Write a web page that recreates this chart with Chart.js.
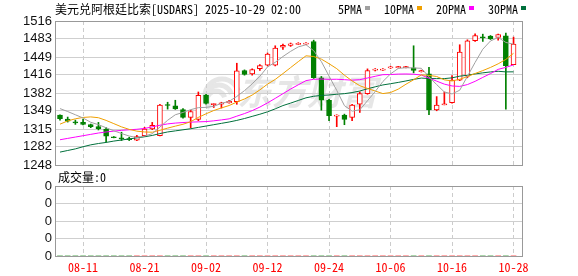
<!DOCTYPE html>
<html>
<head>
<meta charset="utf-8">
<script src="https://cdn.jsdelivr.net/npm/chart.js@4.4.1/dist/chart.umd.min.js"></script>
<style>
  html, body { margin: 0; padding: 0; background: #fff; }
  #wrap { position: relative; width: 578px; height: 276px; }
  #wrap canvas { position: absolute; left: 0; top: 0; }
</style>
</head>
<body>
<div id="wrap">
  <canvas id="main" width="578" height="276"></canvas>
  <canvas id="vol" width="578" height="276"></canvas>
</div>
<script>
// daily candles, 2025-08-06 .. 2025-10-28
const dates = ['08-06','08-07','08-08','08-11','08-12','08-13','08-14','08-15','08-18','08-19',
  '08-20','08-21','08-22','08-25','08-26','08-27','08-28','08-29','09-01','09-02',
  '09-03','09-04','09-05','09-08','09-09','09-10','09-11','09-12','09-15','09-16',
  '09-17','09-18','09-19','09-22','09-23','09-24','09-25','09-26','09-29','09-30',
  '10-01','10-02','10-03','10-06','10-07','10-08','10-09','10-10','10-13','10-14',
  '10-15','10-16','10-17','10-20','10-21','10-22','10-23','10-24','10-27','10-28'];

const open  = [1340.8,1333.5,1328.5,1327.3,1323,1319.3,1315,1300.5,1298.5,1297,
  1294.1,1302.7,1315,1302.7,1360.5,1358,1351.3,1336.5,1332.9,1378.3,
  1360.5,1361,1363.6,1366,1423.8,1417.7,1427.5,1433.6,1433.6,1467.5,
  1470.5,1472.5,1473,1477.9,1410.3,1368.5,1339,1340.8,1336.5,1361.1,
  1380.8,1424.5,1424.5,1428.7,1429,1429,1428.7,1421.5,1417.7,1350.7,
  1360,1364.2,1406,1413.4,1479.2,1486.5,1487.8,1485.3,1488.4,1434.9];
const high  = [1341.5,1337.2,1331.6,1333.5,1324.2,1327.3,1317.5,1301,1309,1299.7,
  1303.4,1318.1,1327.3,1361.1,1364.8,1368.5,1353,1350,1383.9,1379.6,
  1362.4,1364.8,1368.5,1437.4,1425,1427,1434.9,1456.4,1469.9,1473,
  1475,1475.7,1476,1480.4,1412.8,1370.4,1341.5,1342.7,1361.1,1383.9,
  1426.9,1427.5,1427.5,1431.8,1431.5,1431.5,1469.9,1424.5,1430,1375.3,
  1383.9,1414.6,1471.8,1481,1492,1491.5,1489,1491.5,1493.3,1486];
const low   = [1331.6,1327.9,1323.6,1322.4,1317.5,1313.2,1290.5,1298.5,1293.5,1293.5,
  1293.5,1301.5,1313.8,1302.1,1352,1351.5,1335.3,1317,1330.4,1361,
  1355,1354,1363,1361,1415.2,1415.2,1423.8,1432.4,1432.4,1463,
  1468.7,1472,1472.5,1409,1350,1330.4,1319.3,1323,1330.4,1345.8,
  1379.6,1423,1424,1427.5,1428.5,1428.5,1419.5,1421,1341.5,1348.9,
  1359.9,1363,1405,1410.3,1478,1478,1481.6,1480.4,1351.9,1434.9];
const close = [1334.1,1329.8,1326.5,1323.6,1319.3,1315,1301.5,1298.7,1296.7,1295.2,
  1300.9,1315,1321.8,1359.3,1358.7,1352.5,1336.5,1347.6,1377.7,1362.4,
  1362.4,1363.6,1366.7,1423.2,1416.5,1425.7,1433,1454.6,1465.6,1470.5,
  1473.6,1474.5,1475,1410.3,1368.5,1339.6,1341,1332.9,1359.3,1380.8,
  1423.8,1426.5,1426.5,1430.6,1431,1431,1423.8,1423.5,1350.7,1359.3,
  1362,1406,1458.2,1479.2,1489,1484.5,1482.8,1490.8,1433,1473];

const ma5  = [1353,1347.5,1341.5,1335.5,1327.5,1323,1317.3,1311.8,1306.6,1301.9,
  1299.1,1301.8,1306.2,1318.6,1331.2,1341.5,1345.8,1351,1354.7,1355.3,
  1357.2,1362.7,1366.5,1375.6,1386.4,1399.1,1413,1430.6,1439.1,1449.9,
  1459.5,1467.8,1471.8,1460.8,1440.4,1413.5,1386.9,1358.5,1348.3,1350.7,
  1367.6,1384.7,1403.4,1417.6,1427.7,1429.1,1428.6,1428,1412,1397.7,
  1383.9,1380.3,1387.2,1413,1438.9,1463.5,1478.8,1485.4,1476.1,1472.9];
const ma10 = [1324,1330,1334,1336.5,1337.5,1336,1331,1325,1319,1314.3,
  1311,1309.5,1309,1312.6,1316.6,1320.3,1323.8,1328.6,1336.6,1343.3,
  1349.4,1354.2,1358.7,1365.1,1370.9,1378.2,1387.8,1398.5,1407.3,1418.1,
  1429.3,1440.4,1451.2,1449.9,1445.1,1436.5,1427.3,1415.1,1404.5,1395.5,
  1390.5,1385.7,1380.9,1382.9,1389.2,1398.3,1406.6,1415.7,1414.8,1412.7,
  1406.5,1404.4,1407.6,1412.5,1418.3,1423.7,1429.6,1436.3,1444.5,1455.9];
const ma20 = [1295,1297.5,1300,1302.5,1305,1307.5,1309.5,1311,1312.5,1313.5,
  1314.5,1316,1319,1322,1324.5,1326,1327,1327.8,1328.3,1328.8,
  1330.2,1331.9,1333.9,1338.9,1343.7,1349.2,1355.8,1363.6,1372,1380.7,
  1389.3,1397.3,1405,1407.5,1408,1407.4,1407.6,1406.8,1405.9,1406.8,
  1409.9,1413.1,1416.1,1416.4,1417.2,1417.4,1417,1415.4,1409.7,1404.1,
  1398.5,1395.1,1394.3,1397.7,1403.7,1411,1418.1,1426,1429.7,1434.3];
const ma30 = [1272,1275,1278,1282,1285.5,1288,1290,1292.5,1294.5,1296.5,
  1298.5,1300.5,1303,1306.5,1309.5,1311.5,1313.5,1315.5,1318,1320.5,
  1323,1325.5,1328,1331,1334.5,1338.5,1342.5,1347,1352.5,1358.6,
  1363.2,1368.1,1373,1375.9,1377.5,1378.3,1379.7,1380.8,1382.8,1385.7,
  1389.8,1393.5,1397,1399.3,1401.7,1404.4,1407.3,1409.8,1408.9,1408.8,
  1408.8,1410.2,1413.3,1415.1,1417.5,1419.5,1421.2,1422.4,1421.3,1421.4];

const volume = [0,0,0,0,0,0,0,0,0,0, 0,0,0,0,0,0,0,0,0,0, 0,0,0,0,0,0,0,0,0,0,
  0,0,0,0,0,0,0,0,0,0, 0,0,0,0,0,0,0,0,0,0, 0,0,0,0,0,0,0,0,0,0];

const priceTicks = [1248,1282,1315,1349,1382,1416,1449,1483,1516];
const volTicks = [0,1,2,3,4];
const volTickLabels = ['0','0','0','0','0'];
const dateTickIdx = [3,11,19,27,35,43,51,59];

const maNames = ['5PMA','10PMA','20PMA','30PMA'];
const maColors = ['#a0a0a0','#f0a000','#ff00ff','#00703c'];

const RED = '#ff0000', GREEN = '#008000';
const MONO = "'Noto Sans Mono CJK SC', 'Noto Sans CJK SC', 'DejaVu Sans Mono', monospace";

const idx = dates.map((d, i) => i);
const isUp = close.map((c, i) => c >= open[i]);

const frame = {
  id: 'frame',
  afterDatasetsDraw(chart) {
    const {ctx, chartArea: a} = chart;
    ctx.save();
    ctx.strokeStyle = '#999999';
    ctx.lineWidth = 1;
    ctx.strokeRect(Math.round(a.left) + 0.5, Math.round(a.top) + 0.5,
      Math.round(a.right - a.left), Math.round(a.bottom - a.top));
    ctx.restore();
  }
};

const mainText = {
  id: 'mainText',
  beforeDraw(chart) {
    // faint watermark: swoosh + brand name
    const ctx = chart.ctx;
    ctx.save();
    ctx.strokeStyle = '#e6e6e6';
    ctx.fillStyle = '#e6e6e6';
    ctx.lineWidth = 5;
    for (let k = 0; k < 3; k++) {
      ctx.beginPath();
      ctx.arc(222 - k * 3, 96 + k * 2, 17 - k * 4, Math.PI * 0.75, Math.PI * 1.9);
      ctx.stroke();
    }
    ctx.font = "italic bold 35px 'Noto Sans CJK SC'";
    ctx.textBaseline = 'middle';
    ctx.fillText('东方财富', 237, 92);
    ctx.restore();
  },
  afterDraw(chart) {
    const ctx = chart.ctx;
    ctx.save();
    ctx.textBaseline = 'middle';
    ctx.fillStyle = '#000';
    ctx.font = '12px ' + MONO;
    ctx.fillText('美元兑阿根廷比索[USDARS] 2025-10-29 02:00', 55, 9);
    let x = 338;
    maNames.forEach((n, i) => {
      ctx.fillStyle = '#000';
      ctx.fillText(n, x, 9);
      const w = ctx.measureText(n).width;
      ctx.fillStyle = maColors[i];
      ctx.fillRect(Math.round(x + w + 3), 6, 5, 4);
      x += w + 22;
    });
    ctx.restore();
  }
};

new Chart(document.getElementById('main'), {
  type: 'line',
  data: {
    datasets: [
      ...[ma5, ma10, ma20, ma30].map((arr, k) => ({
        type: 'line', label: maNames[k],
        data: idx.map(i => ({x: i, y: arr[i]})),
        borderColor: maColors[k], borderWidth: 1, pointRadius: 0, tension: 0, order: 0
      })),
      {
        type: 'bar', label: 'body',
        data: idx.map(i => ({x: i, y: [open[i], close[i]]})),
        backgroundColor: isUp.map(u => u ? '#ffffff' : GREEN),
        borderColor: isUp.map(u => u ? RED : GREEN),
        borderWidth: 1, borderSkipped: false, barThickness: 5, grouped: false, order: 1
      },
      {
        type: 'bar', label: 'wick',
        data: idx.map(i => ({x: i, y: [low[i], high[i]]})),
        backgroundColor: isUp.map(u => u ? RED : GREEN),
        borderWidth: 0, barThickness: 1, grouped: false, order: 2
      }
    ]
  },
  options: {
    responsive: false, animation: false, devicePixelRatio: 1, events: [],
    layout: {padding: {left: 0, right: 56, top: 21, bottom: 111}},
    plugins: {legend: {display: false}, tooltip: {enabled: false}},
    scales: {
      x: {
        type: 'linear', min: -0.65, max: 60.1, offset: false,
        afterBuildTicks: s => { s.ticks = dateTickIdx.map(v => ({value: v})); },
        afterFit: s => { s.height = 0; },
        ticks: {display: false, autoSkip: false},
        grid: {color: '#cccccc', drawTicks: false, offset: false},
        border: {display: false, dash: [4, 3]}
      },
      y: {
        type: 'linear', min: 1248, max: 1516,
        afterBuildTicks: s => { s.ticks = priceTicks.map(v => ({value: v})); },
        afterFit: s => { s.width = 55; },
        ticks: {padding: 3, autoSkip: false, color: '#111',
          font: {family: "'Liberation Sans', Arial", size: 13},
          callback: v => String(v)},
        grid: {color: '#cfcfcf', drawTicks: false},
        border: {display: false}
      }
    }
  },
  plugins: [mainText, frame]
});

const volText = {
  id: 'volText',
  afterDraw(chart) {
    const ctx = chart.ctx;
    ctx.save();
    ctx.textBaseline = 'middle';
    ctx.fillStyle = '#000';
    ctx.font = '12px ' + MONO;
    ctx.fillText('成交量:' + volume[volume.length - 1], 58, 177);
    ctx.restore();
  }
};

new Chart(document.getElementById('vol'), {
  type: 'bar',
  data: {
    datasets: [{
      label: 'vol', data: idx.map(i => ({x: i, y: volume[i]})),
      backgroundColor: isUp.map(u => u ? RED : GREEN), barThickness: 5
    }]
  },
  options: {
    responsive: false, animation: false, devicePixelRatio: 1, events: [],
    layout: {padding: {left: 0, right: 56, top: 186, bottom: 0}},
    plugins: {legend: {display: false}, tooltip: {enabled: false}},
    scales: {
      x: {
        type: 'linear', min: -0.65, max: 60.1, offset: false,
        afterBuildTicks: s => { s.ticks = dateTickIdx.map(v => ({value: v})); },
        afterFit: s => { s.height = 20; },
        ticks: {padding: 4, color: RED, maxRotation: 0, autoSkip: false,
          font: {family: MONO, size: 12},
          callback: v => dates[v]},
        grid: {color: '#cccccc', drawTicks: false, offset: false},
        border: {display: false, dash: [4, 3]}
      },
      y: {
        type: 'linear', min: 0, max: 4,
        afterBuildTicks: s => { s.ticks = volTicks.map(v => ({value: v})); },
        afterFit: s => { s.width = 55; },
        ticks: {padding: 3, autoSkip: false, color: '#111',
          font: {family: "'Liberation Sans', Arial", size: 13},
          callback: (v, i) => volTickLabels[i]},
        grid: {color: '#cfcfcf', drawTicks: false},
        border: {display: false}
      }
    }
  },
  plugins: [volText, frame]
});
</script>
</body>
</html>
